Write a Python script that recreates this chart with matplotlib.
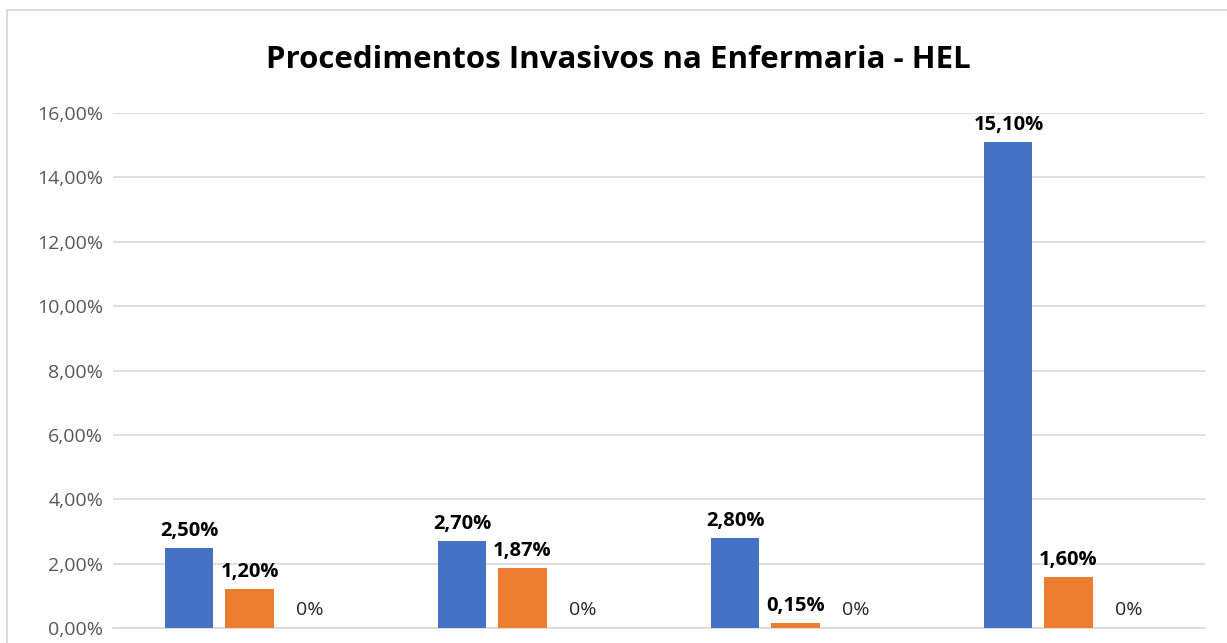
import matplotlib
matplotlib.use("Agg")
import matplotlib.pyplot as plt
from matplotlib.patches import Rectangle
from matplotlib.ticker import FuncFormatter
import numpy as np

plt.rcParams['font.family'] = ['Open Sans', 'DejaVu Sans']

title = "Procedimentos Invasivos na Enfermaria - HEL"
categories = ["Grupo 1", "Grupo 2", "Grupo 3", "Grupo 4"]
serie_azul = [2.50, 2.70, 2.80, 15.10]
serie_laranja = [1.20, 1.87, 0.15, 1.60]
serie_cinza = [0, 0, 0, 0]
y_ticks = [0, 2, 4, 6, 8, 10, 12, 14, 16]

W, H = 1227, 643
fig = plt.figure(figsize=(W / 100, H / 100), dpi=100)
fig.patch.set_facecolor("white")

# chart border
fig.patches.append(Rectangle((7 / W, -0.1), 1.2, 1 - 10 / H + 0.1, transform=fig.transFigure,
                             fill=False, edgecolor="#D9D9D9", linewidth=1.3))

left, right = 113 / W, 1205 / W
bottom, top = (H - 628) / H, (H - 113) / H
ax = fig.add_axes([left, bottom, right - left, top - bottom])

x = np.arange(len(categories))
bw = 0.176
step = 0.22
colors = ["#4472C4", "#ED7D31", "#A5A5A5"]
series = [serie_azul, serie_laranja, serie_cinza]
for i, (vals, c) in enumerate(zip(series, colors)):
    pos = x + (i - 1) * step
    ax.bar(pos, vals, width=bw, color=c, zorder=3)
    for p, v in zip(pos, vals):
        if i < 2:
            lab = f"{v:.2f}%".replace(".", ",")
            ax.annotate(lab, (p, v), xytext=(0, 5), textcoords="offset points",
                        ha="center", va="bottom", fontsize=14.5, fontweight="bold", color="black")
        else:
            lab = f"{v:.0f}%"
            ax.annotate(lab, (p, v), xytext=(0, 6.5), textcoords="offset points",
                        ha="center", va="bottom", fontsize=14, color="#262626")

ax.set_xlim(-0.5, len(categories) - 0.5)
ax.set_ylim(0, 16)
ax.set_yticks(y_ticks)
ax.yaxis.set_major_formatter(FuncFormatter(lambda v, p: f"{v:.2f}%".replace(".", ",")))
ax.tick_params(axis="y", length=0, pad=7, labelsize=14, labelcolor="#595959")
ax.set_xticks(x)
ax.set_xticklabels(categories)
ax.tick_params(axis="x", length=0, labelbottom=False)
ax.grid(axis="y", color="#D9D9D9", linewidth=1.2, zorder=0)
for s in ["top", "right", "left"]:
    ax.spines[s].set_visible(False)
ax.spines["bottom"].set_color("#D9D9D9")
ax.spines["bottom"].set_linewidth(1.2)

fig.text(618 / W, 1 - 60 / H, title, ha="center", va="center", fontsize=22.5,
         fontweight="bold", color="black")

fig.savefig("out.png", dpi=100)
